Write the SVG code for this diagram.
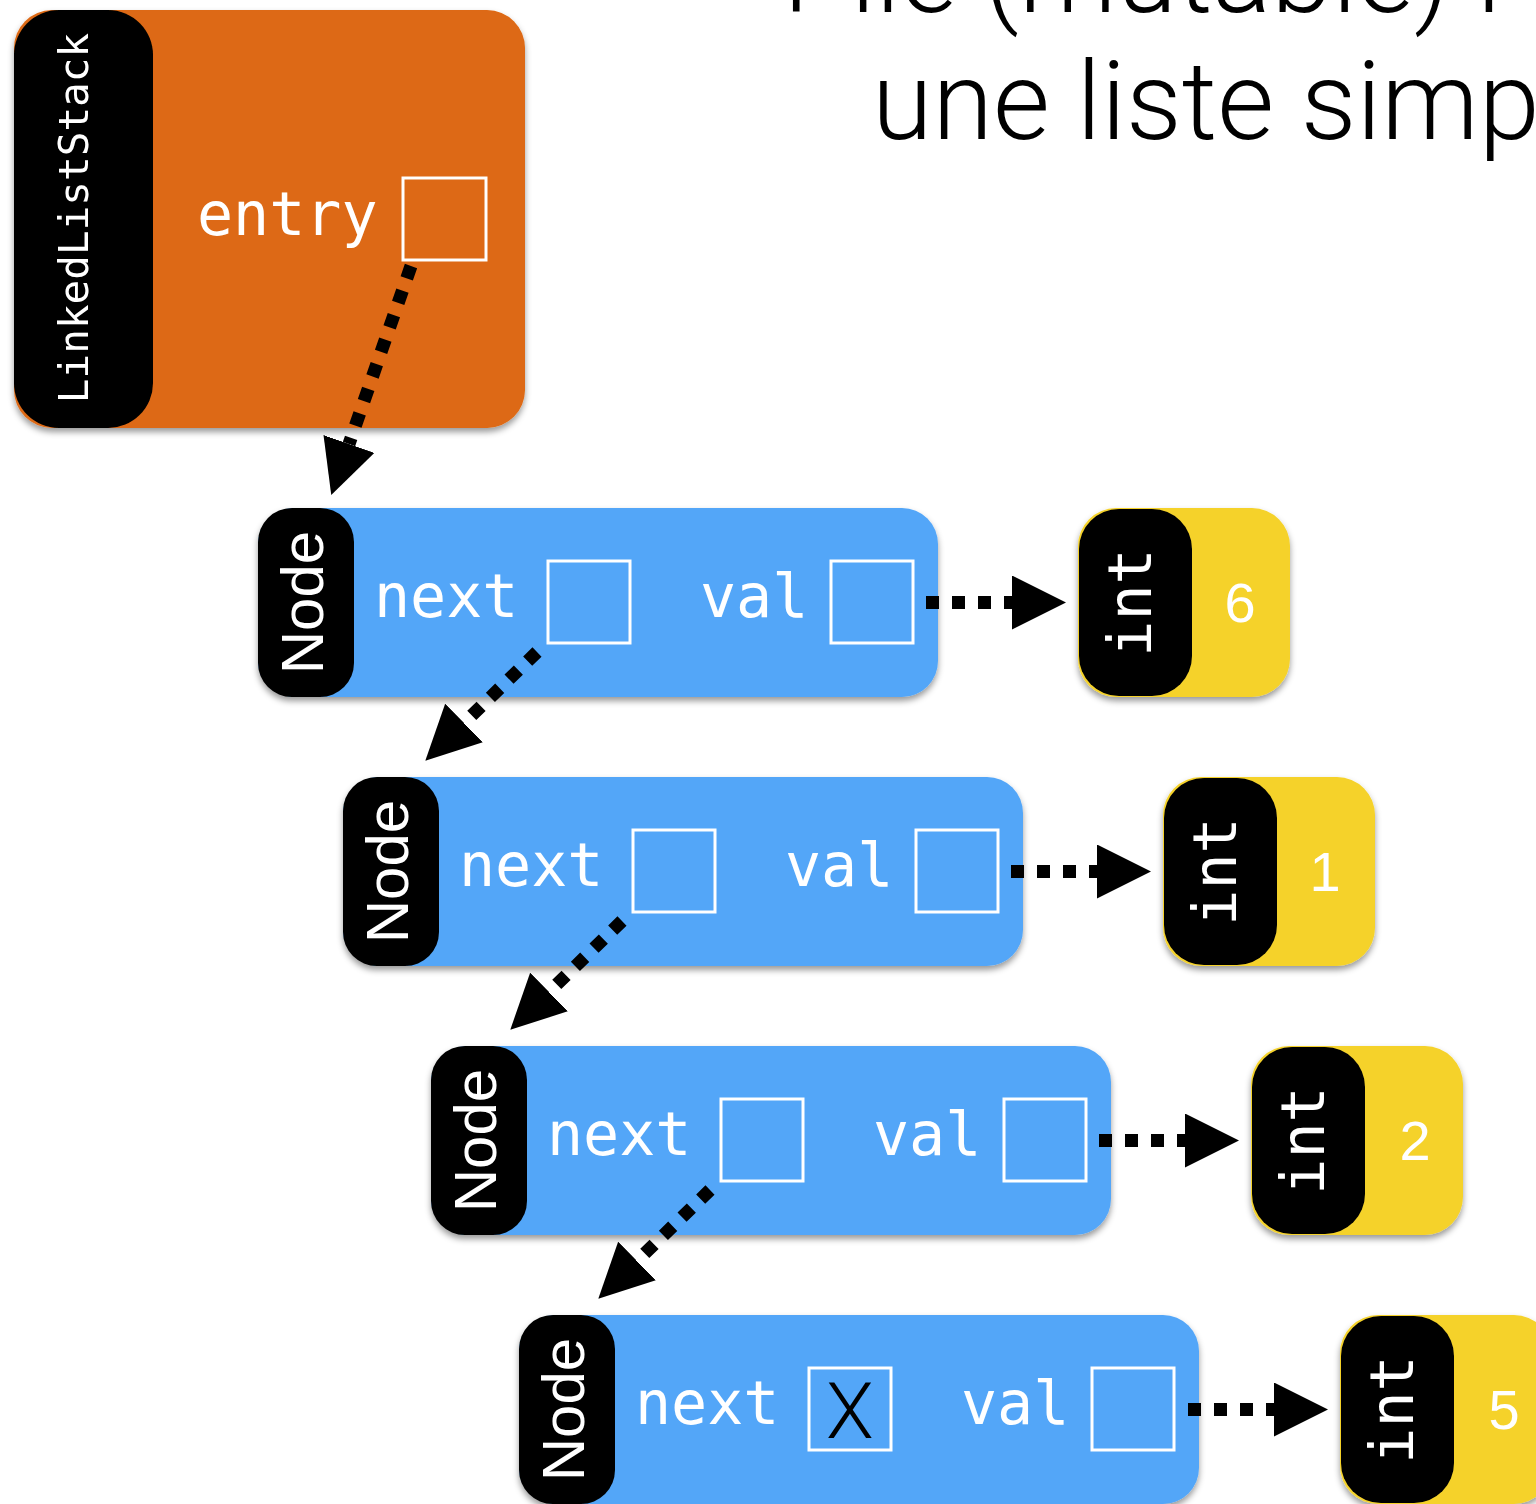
<svg xmlns="http://www.w3.org/2000/svg" width="1536" height="1504" viewBox="0 0 1536 1504">
  <style>
    .title { font-family: Roboto, "Liberation Sans", sans-serif; font-weight: 300; font-size: 110px; fill: #000; }
    .mono { font-family: "DejaVu Sans Mono", "Liberation Mono", monospace; fill: #fff; }
    .field { font-size: 60px; }
    .tag { font-family: "Liberation Sans", Arial, sans-serif; font-size: 60px; fill: #fff; }
    .num { font-family: "Liberation Sans", Arial, sans-serif; font-size: 56px; fill: #fff; text-anchor: middle; }
    .slot { fill: none; stroke: #fff; stroke-width: 3; }
    .orange { fill: #DD6913; }
    .blue { fill: #53A6F8; }
    .yellow { fill: #F5D22C; }
    .label { fill: #000; }
    .ptr { fill: none; stroke: #000; stroke-width: 13; stroke-dasharray: 13 13; stroke-linecap: butt; marker-end: url(#head); }
    .nil { font-family: Roboto, "Liberation Sans", sans-serif; font-weight: 300; font-size: 78px; fill: #000; text-anchor: middle; }
  </style>
  <defs>
    <filter id="shadow" x="-10%" y="-10%" width="120%" height="130%">
      <feDropShadow dx="0" dy="4" stdDeviation="3" flood-color="#000" flood-opacity="0.4"/>
    </filter>
    <marker id="head" viewBox="0 0 54 54" refX="0" refY="27" markerWidth="54" markerHeight="54" markerUnits="userSpaceOnUse" orient="auto">
      <path d="M0,0 L54,27 L0,54 Z" fill="#000"/>
    </marker>
  </defs>

  <!-- title (runs off the top and right edges) -->
  <g id="title">
    <text class="title" x="783" y="12">Pile (mutable) i</text>
    <text class="title" x="872" y="139">une liste simp</text>
  </g>

  <!-- stack object -->
  <g id="stack" filter="url(#shadow)">
    <rect class="orange" x="14" y="10" width="511" height="418" rx="38"/>
    <rect class="label" x="14" y="10" width="139" height="418" rx="45"/>
    <text class="mono" font-size="41" transform="translate(88,218) rotate(-90)" text-anchor="middle">LinkedListStack</text>
    <text class="mono field" x="197" y="235">entry</text>
    <rect class="slot" x="403" y="178" width="83" height="82"/>
  </g>

  <!-- list nodes -->
  <g id="node1" filter="url(#shadow)">
    <rect class="blue" x="258" y="508" width="680" height="189" rx="36"/>
    <rect class="label" x="258" y="508" width="96" height="189" rx="34"/>
    <text class="tag" transform="translate(323,602.5) rotate(-90)" text-anchor="middle">Node</text>
    <text class="mono field" x="374" y="617">next</text>
    <rect class="slot" x="548" y="561" width="82" height="82"/>
    <text class="mono field" x="700" y="617">val</text>
    <rect class="slot" x="831" y="561" width="82" height="82"/>
  </g>
  <g id="node2" filter="url(#shadow)">
    <rect class="blue" x="343" y="777" width="680" height="189" rx="36"/>
    <rect class="label" x="343" y="777" width="96" height="189" rx="34"/>
    <text class="tag" transform="translate(408,871.5) rotate(-90)" text-anchor="middle">Node</text>
    <text class="mono field" x="459" y="886">next</text>
    <rect class="slot" x="633" y="830" width="82" height="82"/>
    <text class="mono field" x="785" y="886">val</text>
    <rect class="slot" x="916" y="830" width="82" height="82"/>
  </g>
  <g id="node3" filter="url(#shadow)">
    <rect class="blue" x="431" y="1046" width="680" height="189" rx="36"/>
    <rect class="label" x="431" y="1046" width="96" height="189" rx="34"/>
    <text class="tag" transform="translate(496,1140.5) rotate(-90)" text-anchor="middle">Node</text>
    <text class="mono field" x="547" y="1155">next</text>
    <rect class="slot" x="721" y="1099" width="82" height="82"/>
    <text class="mono field" x="873" y="1155">val</text>
    <rect class="slot" x="1004" y="1099" width="82" height="82"/>
  </g>
  <g id="node4" filter="url(#shadow)">
    <rect class="blue" x="519" y="1315" width="680" height="189" rx="36"/>
    <rect class="label" x="519" y="1315" width="96" height="189" rx="34"/>
    <text class="tag" transform="translate(584,1409.5) rotate(-90)" text-anchor="middle">Node</text>
    <text class="mono field" x="635" y="1424">next</text>
    <rect class="slot" x="809" y="1368" width="82" height="82"/>
    <text class="nil" x="850" y="1438">X</text>
    <text class="mono field" x="961" y="1424">val</text>
    <rect class="slot" x="1092" y="1368" width="82" height="82"/>
  </g>

  <!-- boxed ints -->
  <g id="int6" filter="url(#shadow)">
    <rect class="yellow" x="1078" y="508" width="212" height="189" rx="38"/>
    <rect class="label" x="1079" y="509" width="113" height="187" rx="40"/>
    <text class="mono field" transform="translate(1151,602.5) rotate(-90)" text-anchor="middle">int</text>
    <text class="num" x="1240" y="622">6</text>
  </g>
  <g id="int1" filter="url(#shadow)">
    <rect class="yellow" x="1163" y="777" width="212" height="189" rx="38"/>
    <rect class="label" x="1164" y="778" width="113" height="187" rx="40"/>
    <text class="mono field" transform="translate(1236,871.5) rotate(-90)" text-anchor="middle">int</text>
    <text class="num" x="1325" y="891">1</text>
  </g>
  <g id="int2" filter="url(#shadow)">
    <rect class="yellow" x="1251" y="1046" width="212" height="189" rx="38"/>
    <rect class="label" x="1252" y="1047" width="113" height="187" rx="40"/>
    <text class="mono field" transform="translate(1324,1140.5) rotate(-90)" text-anchor="middle">int</text>
    <text class="num" x="1415" y="1160">2</text>
  </g>
  <g id="int5" filter="url(#shadow)">
    <rect class="yellow" x="1340" y="1315" width="212" height="189" rx="38"/>
    <rect class="label" x="1341" y="1316" width="113" height="187" rx="40"/>
    <text class="mono field" transform="translate(1413,1409.5) rotate(-90)" text-anchor="middle">int</text>
    <text class="num" x="1504" y="1429">5</text>
  </g>

  <!-- pointers -->
  <g id="connectors">
    <path class="ptr" d="M411,266 L349,444"/>
    <path class="ptr" d="M537,652 L464,723"/>
    <path class="ptr" d="M622,921 L549,992"/>
    <path class="ptr" d="M710,1190 L637,1261"/>
    <path class="ptr" d="M926,602.5 H1012"/>
    <path class="ptr" d="M1011,871.5 H1097"/>
    <path class="ptr" d="M1099,1140.5 H1185"/>
    <path class="ptr" d="M1188,1409.5 H1274"/>
  </g>
</svg>
